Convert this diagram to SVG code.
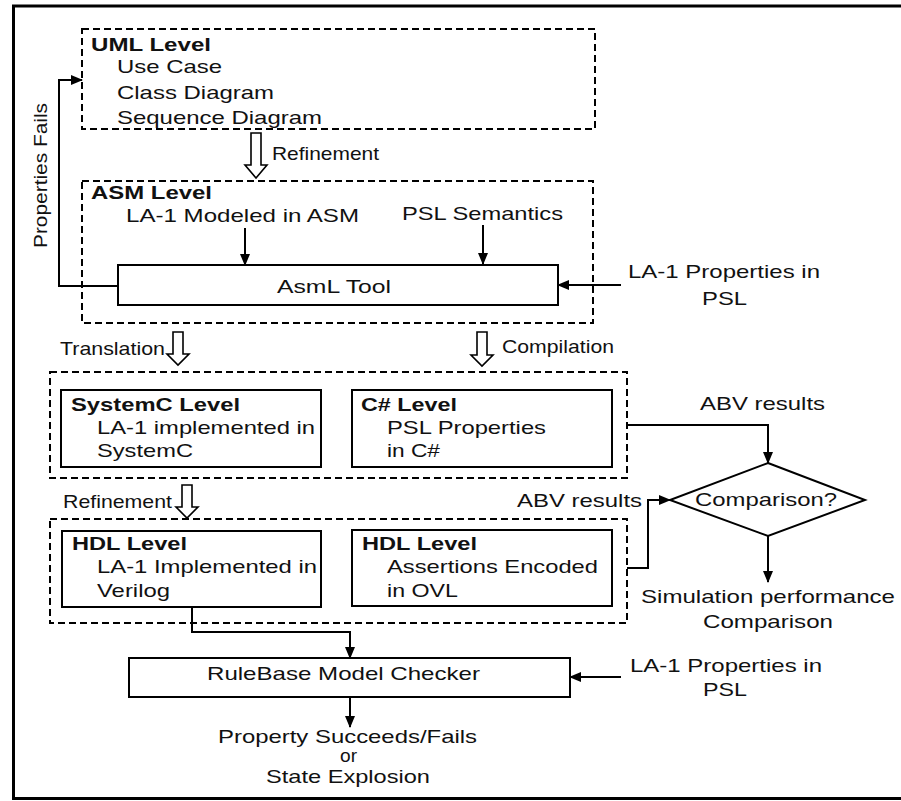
<svg xmlns="http://www.w3.org/2000/svg" width="901" height="801" viewBox="0 0 901 801">
<defs>
<marker id="ah" markerWidth="12" markerHeight="10" refX="11" refY="5" orient="auto" markerUnits="userSpaceOnUse">
<path d="M0,0 L12,5 L0,10 Z" fill="#000"/>
</marker>
<style>
text{font-family:"Liberation Sans",Arial,sans-serif;font-size:19px;fill:#111}
.b{font-weight:bold}
.dash{fill:none;stroke:#000;stroke-width:2;stroke-dasharray:7,4}
.box{fill:#fff;stroke:#000;stroke-width:2}
.con{fill:none;stroke:#000;stroke-width:2;marker-end:url(#ah)}
.hol{fill:#fff;stroke:#000;stroke-width:1.6;stroke-linejoin:miter}
</style>
</defs>
<rect width="901" height="801" fill="#fff"/>
<path d="M901,6 H13.5 V798.5 H901" fill="none" stroke="#000" stroke-width="3"/>

<g id="uml">
<rect class="dash" x="82" y="29" width="513" height="100"/>
<text class="b" x="91" y="51" textLength="120" lengthAdjust="spacingAndGlyphs">UML Level</text>
<text x="117" y="73" textLength="105" lengthAdjust="spacingAndGlyphs">Use Case</text>
<text x="117" y="99" textLength="157" lengthAdjust="spacingAndGlyphs">Class Diagram</text>
<text x="117" y="124" textLength="205" lengthAdjust="spacingAndGlyphs">Sequence Diagram</text>
</g>

<g id="asm">
<rect class="dash" x="82" y="181" width="511" height="142"/>
<text class="b" x="91" y="199" textLength="121" lengthAdjust="spacingAndGlyphs">ASM Level</text>
<text x="126" y="222" textLength="233" lengthAdjust="spacingAndGlyphs">LA-1 Modeled in ASM</text>
<text x="402" y="220" textLength="161" lengthAdjust="spacingAndGlyphs">PSL Semantics</text>
</g>

<g id="asml-tool">
<rect class="box" x="118" y="265" width="440" height="40"/>
<text x="277" y="293" textLength="114" lengthAdjust="spacingAndGlyphs">AsmL Tool</text>
</g>

<g id="sc-cs">
<rect class="dash" x="50" y="372" width="577" height="106"/>
</g>
<g id="systemc">
<rect class="box" x="61" y="390" width="260" height="77"/>
<text class="b" x="71" y="411" textLength="169" lengthAdjust="spacingAndGlyphs">SystemC Level</text>
<text x="97" y="434" textLength="218" lengthAdjust="spacingAndGlyphs">LA-1 implemented in</text>
<text x="97" y="457" textLength="96" lengthAdjust="spacingAndGlyphs">SystemC</text>
</g>
<g id="csharp">
<rect class="box" x="352" y="390" width="260" height="77"/>
<text class="b" x="361" y="411" textLength="96" lengthAdjust="spacingAndGlyphs">C# Level</text>
<text x="387" y="434" textLength="159" lengthAdjust="spacingAndGlyphs">PSL Properties</text>
<text x="387" y="457" textLength="53" lengthAdjust="spacingAndGlyphs">in C#</text>
</g>

<g id="hdl-group">
<rect class="dash" x="50" y="519" width="577" height="104"/>
</g>
<g id="hdl-verilog">
<rect class="box" x="62" y="531" width="259" height="76"/>
<text class="b" x="72" y="550" textLength="115" lengthAdjust="spacingAndGlyphs">HDL Level</text>
<text x="97" y="573" textLength="220" lengthAdjust="spacingAndGlyphs">LA-1 Implemented in</text>
<text x="97" y="597" textLength="73" lengthAdjust="spacingAndGlyphs">Verilog</text>
</g>
<g id="hdl-ovl">
<rect class="box" x="352" y="530" width="260" height="76"/>
<text class="b" x="362" y="550" textLength="115" lengthAdjust="spacingAndGlyphs">HDL Level</text>
<text x="387" y="573" textLength="211" lengthAdjust="spacingAndGlyphs">Assertions Encoded</text>
<text x="387" y="597" textLength="71" lengthAdjust="spacingAndGlyphs">in OVL</text>
</g>

<g id="comparison">
<polygon points="768,463 865,500 768,536 670,500" fill="#fff" stroke="#000" stroke-width="2"/>
<text x="695" y="506" textLength="142" lengthAdjust="spacingAndGlyphs">Comparison?</text>
</g>

<g id="rulebase">
<rect class="box" x="129" y="658" width="441" height="39"/>
<text x="207" y="680" textLength="273" lengthAdjust="spacingAndGlyphs">RuleBase Model Checker</text>
</g>

<g id="inputs">
<text x="628" y="278" textLength="192" lengthAdjust="spacingAndGlyphs">LA-1 Properties in</text>
<text x="702" y="305" textLength="45" lengthAdjust="spacingAndGlyphs">PSL</text>
<text x="630" y="672" textLength="192" lengthAdjust="spacingAndGlyphs">LA-1 Properties in</text>
<text x="703" y="696" textLength="44" lengthAdjust="spacingAndGlyphs">PSL</text>
</g>

<g id="outputs">
<text x="641" y="603" textLength="254" lengthAdjust="spacingAndGlyphs">Simulation performance</text>
<text x="703" y="628" textLength="130" lengthAdjust="spacingAndGlyphs">Comparison</text>
<text x="218" y="743" textLength="259" lengthAdjust="spacingAndGlyphs">Property Succeeds/Fails</text>
<text x="340" y="762" textLength="17" lengthAdjust="spacingAndGlyphs">or</text>
<text x="266" y="783" textLength="164" lengthAdjust="spacingAndGlyphs">State Explosion</text>
</g>

<g id="connectors">
<path class="con" d="M245,228 V265"/>
<path class="con" d="M483,225 V264"/>
<path class="con" d="M621,285 H558"/>
<path class="con" d="M118,286 H59 V80 H82"/>
<path class="con" d="M627,425 H768 V463"/>
<path class="con" d="M627,568 H648 V500 H670"/>
<path class="con" d="M768,536 V582"/>
<path class="con" d="M192,607 V632 H350 V658"/>
<path class="con" d="M621,677 H570"/>
<path class="con" d="M350,697 V727"/>
<path class="hol" d="M251,133 H261 V165 H267 L256,178 L245,165 H251 Z"/>
<path class="hol" d="M173,332 H183 V354 H189 L178,365 L167,354 H173 Z"/>
<path class="hol" d="M477,332 H487 V355 H493 L482,366 L471,355 H477 Z"/>
<path class="hol" d="M182,485 H192 V507 H198 L187,518 L176,507 H182 Z"/>
<text x="272" y="160" textLength="107" lengthAdjust="spacingAndGlyphs">Refinement</text>
<text x="60" y="355" textLength="105" lengthAdjust="spacingAndGlyphs">Translation</text>
<text x="502" y="353" textLength="112" lengthAdjust="spacingAndGlyphs">Compilation</text>
<text x="63" y="508" textLength="109" lengthAdjust="spacingAndGlyphs">Refinement</text>
<text x="700" y="410" textLength="125" lengthAdjust="spacingAndGlyphs">ABV results</text>
<text x="517" y="507" textLength="125" lengthAdjust="spacingAndGlyphs">ABV results</text>
<text transform="translate(47,248) rotate(-90)" textLength="145" lengthAdjust="spacingAndGlyphs">Properties Fails</text>
</g>
</svg>
